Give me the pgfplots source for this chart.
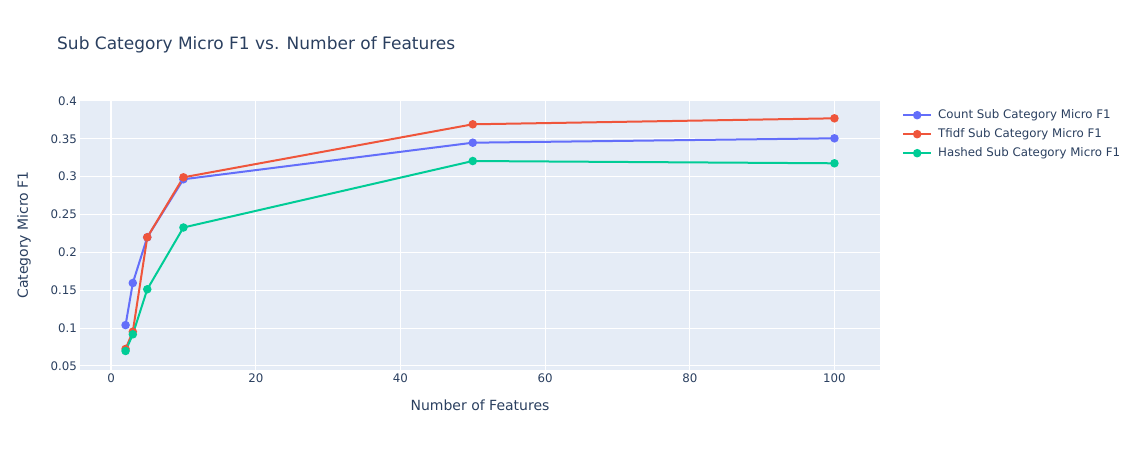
\documentclass[border=0pt]{standalone}
\usepackage{fontspec}
\setmainfont{DejaVu Sans}
\usepackage{pgfplots}
\pgfplotsset{compat=1.18}
\definecolor{cCount}{RGB}{99,110,250}
\definecolor{cTfidf}{RGB}{239,85,59}
\definecolor{cHash}{RGB}{0,204,150}
\definecolor{bgc}{RGB}{229,236,246}
\definecolor{tc}{RGB}{42,63,95}
\begin{document}
\begin{tikzpicture}[x=1pt,y=1pt]
\path[use as bounding box] (0,0) rectangle (1138,450);
\begin{axis}[
  at={(80pt,80pt)}, anchor=south west,
  scale only axis, width=800pt, height=270pt,
  xmin=-4.3, xmax=106.3, ymin=0.0447, ymax=0.4013,
  axis background/.style={fill=bgc},
  axis line style={draw=none},
  major tick length=0pt,
  grid=major, grid style={white, line width=1pt},
  xtick={0,20,40,60,80,100},
  ytick={0.05,0.1,0.15,0.2,0.25,0.3,0.35,0.4},
  yticklabels={0.05,0.1,0.15,0.2,0.25,0.3,0.35,0.4},
  /pgf/number format/assume math mode=true,
  tick label style={font=\fontsize{11.8}{14}\selectfont, text=tc},
  xticklabel style={inner sep=0pt, yshift=-4pt},
  yticklabel style={inner sep=0pt, xshift=-3pt},
  xlabel={Number of Features},
  ylabel={Category Micro F1},
  label style={font=\fontsize{14}{16}\selectfont, text=tc},
  xlabel style={at={(axis description cs:0.5,-0.1296)}, anchor=center},
  ylabel style={at={(axis description cs:-0.07,0.5)}, anchor=center, rotate=0},
  legend cell align=left,
  legend image code/.code={\draw[mark repeat=2,mark phase=2,#1] plot coordinates {(0pt,0pt) (14pt,0pt) (28pt,0pt)};},
  legend style={at={(axis description cs:1.0275,0.9667)}, anchor=north west, draw=none, fill=none, inner sep=0pt, row sep=7pt, column sep=6pt, font=\fontsize{11.8}{14}\selectfont, text=tc, nodes={inner sep=0pt, text height=9pt, text depth=3pt}},
  every axis plot/.append style={line width=2pt, mark=*, mark size=3.2pt, mark options={solid}},
]
\draw[white, line width=2pt] (axis cs:0,0.0447) -- (axis cs:0,0.4013);
\addplot[cCount] coordinates {(2,0.104) (3,0.1596) (5,0.220) (10,0.2966) (50,0.3449) (100,0.3507)};
\addlegendentry{Count Sub Category Micro F1}
\addplot[cTfidf] coordinates {(2,0.0725) (3,0.0953) (5,0.220) (10,0.2992) (50,0.3692) (100,0.3771)};
\addlegendentry{Tfidf Sub Category Micro F1}
\addplot[cHash] coordinates {(2,0.0698) (3,0.0918) (5,0.1513) (10,0.2329) (50,0.3207) (100,0.3177)};
\addlegendentry{Hashed Sub Category Micro F1}
\end{axis}
\node[anchor=west, inner sep=0pt, text=tc, font=\fontsize{17}{20}\selectfont] at (57,405) {Sub Category Micro F1 vs. Number of Features};
\end{tikzpicture}
\end{document}
